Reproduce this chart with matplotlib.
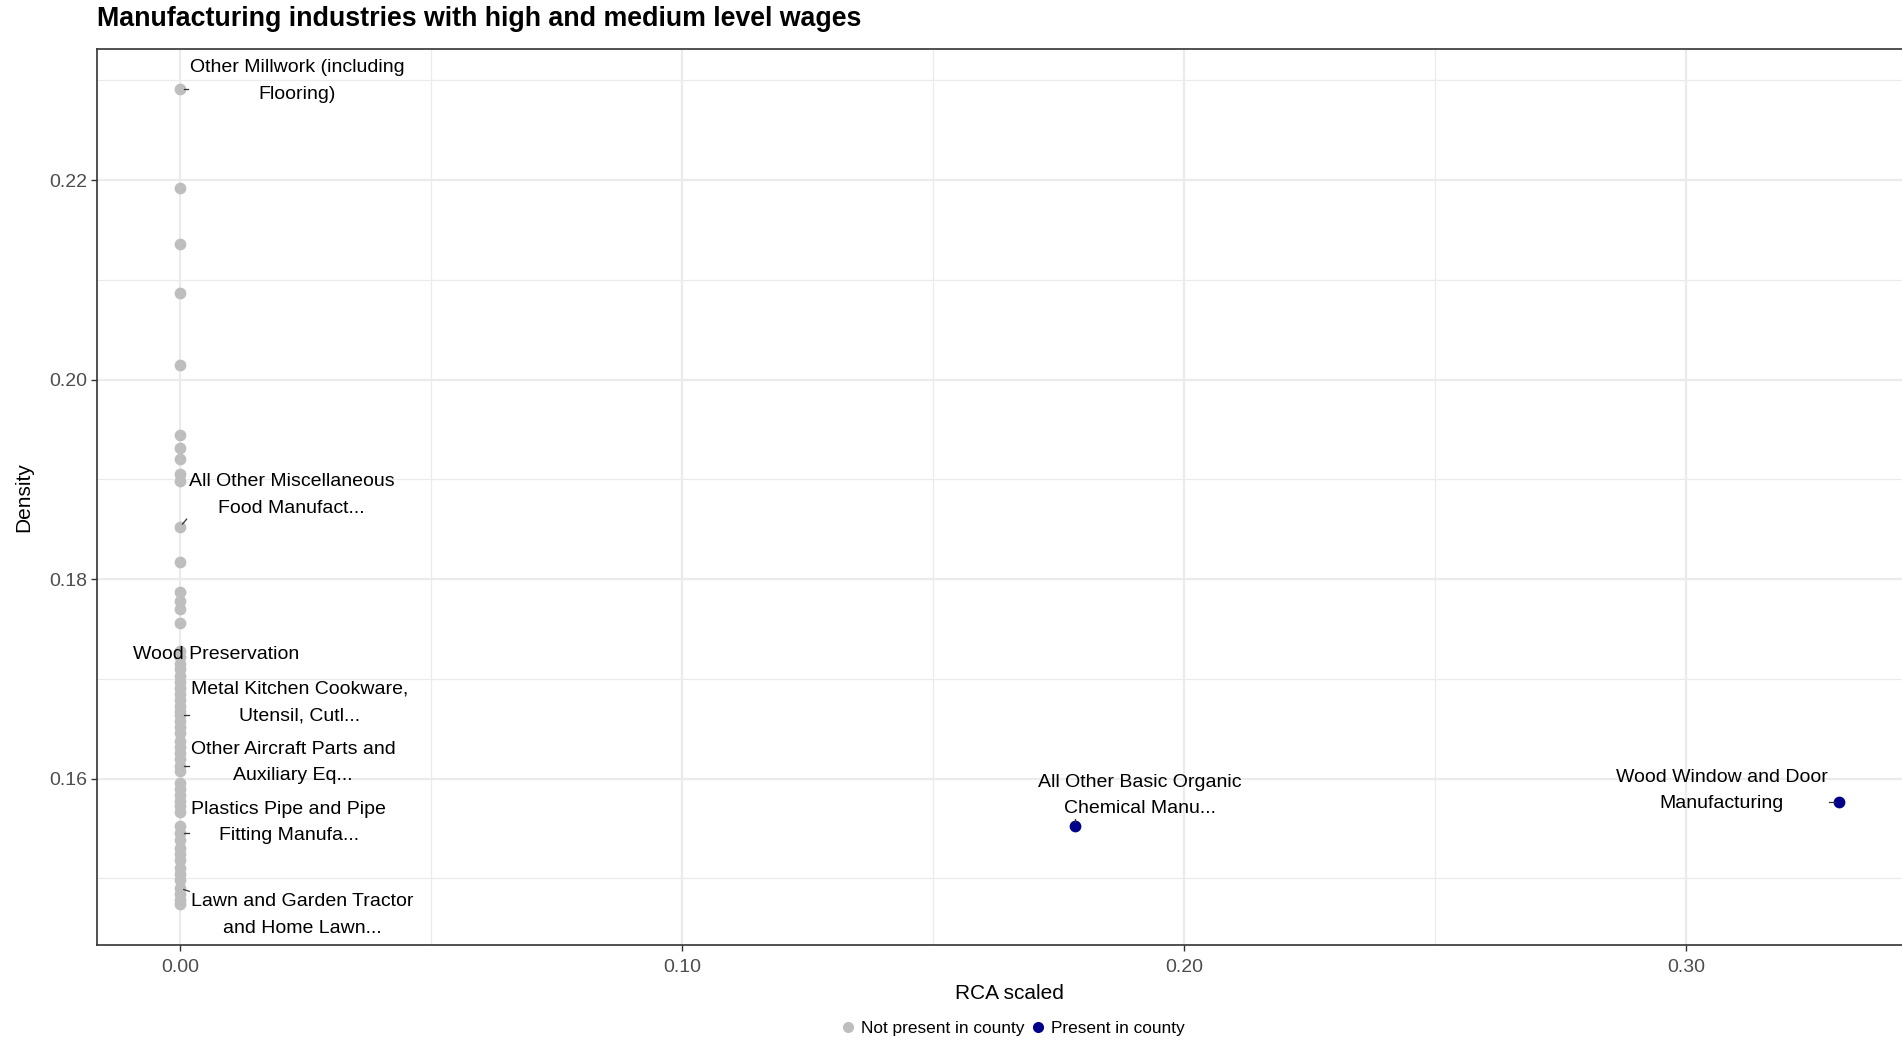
import matplotlib
matplotlib.use("Agg")
import matplotlib.pyplot as plt
from matplotlib.lines import Line2D
import numpy as np

plt.rcParams["font.family"] = ["Liberation Sans", "DejaVu Sans"]

# Labelled industries
label_names = [
    "Other Millwork (including\nFlooring)",
    "All Other Miscellaneous\nFood Manufact...",
    "Wood Preservation",
    "Metal Kitchen Cookware,\nUtensil, Cutl...",
    "Other Aircraft Parts and\nAuxiliary Eq...",
    "Plastics Pipe and Pipe\nFitting Manufa...",
    "Lawn and Garden Tractor\nand Home Lawn...",
    "All Other Basic Organic\nChemical Manu...",
    "Wood Window and Door\nManufacturing",
]
label_rca = [0.0, 0.0, 0.0, 0.0, 0.0, 0.0, 0.0, 0.1783, 0.3304]
label_density = [0.2291, 0.1852, 0.1710, 0.1664, 0.1613, 0.1545, 0.1490, 0.1552, 0.1577]
label_present = [False, False, False, False, False, False, False, True, True]

# Other (unlabelled) industries, all not present in county (RCA scaled = 0)
other_density = [
    0.2192, 0.2136, 0.2087, 0.2015, 0.1944, 0.1931, 0.1920, 0.1905, 0.1898,
    0.1817, 0.1787, 0.1778, 0.1770, 0.1756,
    0.1728, 0.1722, 0.1715, 0.1703, 0.1697, 0.1691, 0.1685, 0.1679, 0.1673,
    0.1668, 0.1658, 0.1652, 0.1646, 0.1638, 0.1632, 0.1626, 0.1620, 0.1608,
    0.1596, 0.1590, 0.1584, 0.1578, 0.1572, 0.1566, 0.1552, 0.1538, 0.1530,
    0.1524, 0.1518, 0.1510, 0.1504, 0.1498, 0.1484, 0.1478, 0.1474,
]
other_rca = [0.0] * len(other_density)

# text placement (data coords) for the repelled labels
label_text_pos = [
    (0.0234, 0.2299), (0.0222, 0.1884), (0.0072, 0.1724), (0.0239, 0.1676),
    (0.0225, 0.1616), (0.0217, 0.1556), (0.0244, 0.1463), (0.1911, 0.1583),
    (0.3070, 0.1588),
]

GREY = "#BEBEBE"
NAVY = "#00008B"

rca_all = np.array(other_rca + label_rca)
dens_all = np.array(other_density + label_density)
present_all = np.array([False] * len(other_rca) + label_present)

W, H = 1902, 1040
fig = plt.figure(figsize=(W / 100, H / 100), dpi=100)
left, top, bottom, right = 97, 48.5, 945, 1922
ax = fig.add_axes([left / W, 1 - bottom / H, (right - left) / W, (bottom - top) / H])

ax.scatter(rca_all[~present_all], dens_all[~present_all], s=72, color=GREY,
           linewidths=0, zorder=3)
ax.scatter(rca_all[present_all], dens_all[present_all], s=72, color=NAVY,
           linewidths=0, zorder=3)

xmin, xmax = rca_all.min(), rca_all.max()
ymin, ymax = dens_all.min(), dens_all.max()
xpad, ypad = 0.05 * (xmax - xmin), 0.05 * (ymax - ymin)
ax.set_xlim(xmin - xpad, xmax + xpad)
ax.set_ylim(ymin - ypad, ymax + ypad)

texts = []
for name, (tx, ty) in zip(label_names, label_text_pos):
    texts.append(ax.text(tx, ty, name, ha="center", va="center", fontsize=14,
                         linespacing=1.75, color="black", zorder=4))

# ggrepel-like leaders: from the point to the nearest edge of the label box
fig.canvas.draw()
renderer = fig.canvas.get_renderer()
inv = ax.transData.inverted()
for t, xr, yd in zip(texts, label_rca, label_density):
    bb = t.get_window_extent(renderer).padded(2)
    px, py = ax.transData.transform((xr, yd))
    qx = min(max(px, bb.x0), bb.x1)
    qy = min(max(py, bb.y0), bb.y1)
    d = np.hypot(qx - px, qy - py)
    if d < 6:
        continue
    sx, sy = px + (qx - px) * 4 / d, py + (qy - py) * 4 / d
    (x0, y0), (x1, y1) = inv.transform([(sx, sy), (qx, qy)])
    ax.plot([x0, x1], [y0, y1], color="#333333", lw=0.9, zorder=4)

ax.set_xticks([0.0, 0.1, 0.2, 0.3])
ax.set_xticklabels(["0.00", "0.10", "0.20", "0.30"])
ax.set_xticks([0.05, 0.15, 0.25], minor=True)
ax.set_yticks([0.16, 0.18, 0.20, 0.22])
ax.set_yticklabels(["0.16", "0.18", "0.20", "0.22"])
ax.set_yticks([0.15, 0.17, 0.19, 0.21, 0.23], minor=True)

ax.grid(which="major", color="#EBEBEB", lw=1.6, zorder=0)
ax.grid(which="minor", color="#EBEBEB", lw=0.9, zorder=0)
ax.set_axisbelow(True)
for sp in ax.spines.values():
    sp.set_color("#333333")
    sp.set_linewidth(1.2)
ax.tick_params(which="major", length=4, width=1.0, color="#333333",
               labelsize=14, labelcolor="#4D4D4D", pad=3)
ax.tick_params(axis="x", which="major", pad=6)
ax.tick_params(which="minor", length=0)

ax.set_xlabel("RCA scaled", fontsize=15, labelpad=6)
ax.set_ylabel("Density", fontsize=15, labelpad=11.5)

fig.text(left / W, 1 - 19.5 / H, "Manufacturing industries with high and medium level wages",
         fontsize=19.3, fontweight="bold", ha="left", va="center")

handles = [
    Line2D([], [], marker="o", ls="", color=GREY, markersize=8, markeredgewidth=0),
    Line2D([], [], marker="o", ls="", color=NAVY, markersize=8, markeredgewidth=0),
]
fig.legend(handles, ["Not present in county", "Present in county"], ncol=2,
           loc="center", bbox_to_anchor=(1011 / W, 1 - 1028.5 / H), frameon=False,
           fontsize=12.4, handletextpad=0.15, columnspacing=0.2, handlelength=1.2,
           borderpad=0)

fig.savefig("out.png", dpi=100)
